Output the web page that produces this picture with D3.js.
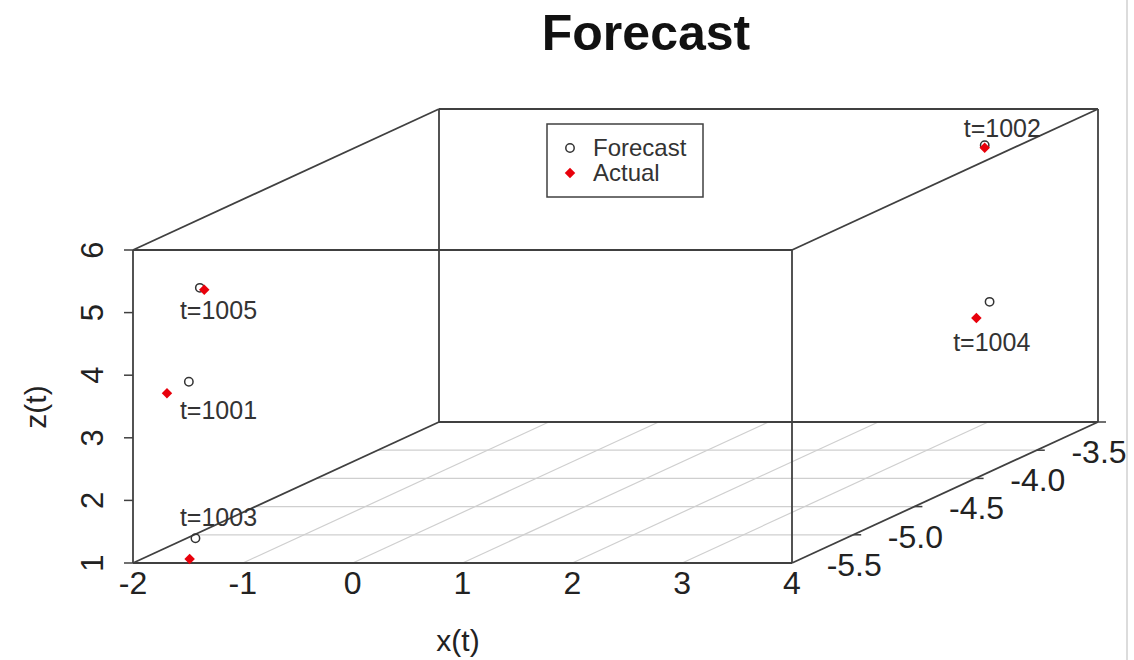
<!DOCTYPE html>
<html>
<head>
<meta charset="utf-8">
<script src="https://cdn.jsdelivr.net/npm/d3@7"></script>
<style>
  body { margin: 0; background: #fff; }
  svg { display: block; font-family: "Liberation Sans", Arial, sans-serif; }
</style>
</head>
<body>
<svg id="chart" width="1134" height="660"></svg>
<script>
// Time stamps of the five forecast / actual pairs.
const times = [1001, 1002, 1003, 1004, 1005];
// Forecast coordinates.
const forecastX = [-1.77, 3.08, -1.71, 3.57, -1.67];
const forecastY = [-5.75, -3.6, -5.75, -4.0, -5.75];
const forecastZ = [3.67, 5.51, 1.17, 3.37, 5.17];
// Actual coordinates.
const actualX = [-1.83, 3.08, -1.54, 3.45, -1.63];
const actualY = [-5.875, -3.6, -5.95, -4.0, -5.75];
const actualZ = [3.60, 5.47, 1.02, 3.11, 5.14];
// Where the "t=..." labels sit, in data space.
const labelX = [-1.50, 3.24, -1.50, 3.59, -1.50];
const labelY = [-5.75, -3.6, -5.75, -4.0, -5.75];
const labelZ = [3.22, 5.79, 1.51, 2.73, 4.82];
// Axis ticks.
const xTicks = [-2, -1, 0, 1, 2, 3, 4];
const yTicks = [-6, -5.5, -5, -4.5, -4, -3.5];
const zTicks = [1, 2, 3, 4, 5, 6];

const svg = d3.select("#chart");
const boxColor = "#404040";
const gridColor = "#cfcfcf";

// Front face scales, plus the oblique shift for the depth (y) axis.
const x = d3.scaleLinear().domain([-2, 4]).range([133, 792]);
const z = d3.scaleLinear().domain([1, 6]).range([563, 250]);
const depth = d3.scaleLinear().domain([-6, -3.5]).range([0, 1]);
const shiftX = 306, shiftY = -141;

function proj(px, py, pz) {
  const f = depth(py);
  return [x(px) + f * shiftX, z(pz) + f * shiftY];
}

function seg(g, a, b, color, width) {
  g.append("line")
    .attr("x1", a[0]).attr("y1", a[1])
    .attr("x2", b[0]).attr("y2", b[1])
    .attr("stroke", color)
    .attr("stroke-width", width);
}

const [xmin, xmax] = x.domain();
const [ymin, ymax] = depth.domain();
const [zmin, zmax] = z.domain();

// Floor grid.
const grid = svg.append("g");
yTicks.slice(1, -1).forEach(v => seg(grid, proj(xmin, v, zmin), proj(xmax, v, zmin), gridColor, 1.2));
xTicks.slice(1, -1).forEach(v => seg(grid, proj(v, ymin, zmin), proj(v, ymax, zmin), gridColor, 1.2));

// Box edges.
const box = svg.append("g");
const edges = [
  [[xmin, ymin, zmin], [xmax, ymin, zmin]],
  [[xmin, ymin, zmax], [xmax, ymin, zmax]],
  [[xmin, ymin, zmin], [xmin, ymin, zmax]],
  [[xmax, ymin, zmin], [xmax, ymin, zmax]],
  [[xmin, ymax, zmin], [xmax, ymax, zmin]],
  [[xmin, ymax, zmax], [xmax, ymax, zmax]],
  [[xmin, ymax, zmin], [xmin, ymax, zmax]],
  [[xmax, ymax, zmin], [xmax, ymax, zmax]],
  [[xmin, ymin, zmin], [xmin, ymax, zmin]],
  [[xmax, ymin, zmin], [xmax, ymax, zmin]],
  [[xmin, ymin, zmax], [xmin, ymax, zmax]],
  [[xmax, ymin, zmax], [xmax, ymax, zmax]]
];
edges.forEach(e => seg(box, proj(...e[0]), proj(...e[1]), boxColor, 1.8));

// z axis ticks and labels (rotated, like R).
zTicks.forEach(v => {
  const p = proj(xmin, ymin, v);
  seg(box, [p[0] - 9, p[1]], p, boxColor, 1.5);
  svg.append("text")
    .attr("transform", `translate(${p[0] - 30},${p[1]}) rotate(-90)`)
    .attr("text-anchor", "middle")
    .attr("font-size", 31)
    .attr("fill", "#222")
    .text(v);
});

// x axis labels.
xTicks.forEach(v => {
  const p = proj(v, ymin, zmin);
  svg.append("text")
    .attr("x", p[0]).attr("y", p[1] + 31)
    .attr("text-anchor", "middle")
    .attr("font-size", 32)
    .attr("fill", "#222")
    .text(v);
});

// y axis ticks and labels along the oblique edge.
yTicks.slice(1).forEach(v => {
  const p = proj(xmax, v, zmin);
  seg(box, p, [p[0] + 8, p[1]], boxColor, 1.5);
  svg.append("text")
    .attr("x", p[0] + 1).attr("y", p[1] + 41)
    .attr("text-anchor", "middle")
    .attr("font-size", 32)
    .attr("fill", "#222")
    .text(v.toFixed(1));
});

// Axis titles.
svg.append("text")
  .attr("x", 458).attr("y", 651)
  .attr("text-anchor", "middle")
  .attr("font-size", 30)
  .attr("fill", "#222")
  .text("x(t)");
svg.append("text")
  .attr("transform", "translate(46,407) rotate(-90)")
  .attr("text-anchor", "middle")
  .attr("font-size", 30)
  .attr("fill", "#222")
  .text("z(t)");

// Title.
svg.append("text")
  .attr("x", 646).attr("y", 50)
  .attr("text-anchor", "middle")
  .attr("font-size", 50)
  .attr("font-weight", "bold")
  .attr("fill", "#111")
  .text("Forecast");

// Points.
const diamond = d3.symbol().type(d3.symbolDiamond2).size(70);
const pts = svg.append("g");
times.forEach((t, i) => {
  const f = proj(forecastX[i], forecastY[i], forecastZ[i]);
  const a = proj(actualX[i], actualY[i], actualZ[i]);
  pts.append("circle")
    .attr("cx", f[0]).attr("cy", f[1]).attr("r", 4.2)
    .attr("fill", "none")
    .attr("stroke", "#333")
    .attr("stroke-width", 1.5);
  pts.append("path")
    .attr("d", diamond)
    .attr("transform", `translate(${a[0]},${a[1]})`)
    .attr("fill", "#e8000b");
  const l = proj(labelX[i], labelY[i], labelZ[i]);
  pts.append("text")
    .attr("x", l[0]).attr("y", l[1])
    .attr("dy", "0.35em")
    .attr("text-anchor", "middle")
    .attr("font-size", 25)
    .attr("fill", "#333")
    .text(`t=${t}`);
});

// Legend.
const legend = svg.append("g").attr("transform", "translate(547,124)");
legend.append("rect")
  .attr("width", 156).attr("height", 73)
  .attr("fill", "#fff")
  .attr("stroke", boxColor)
  .attr("stroke-width", 1.5);
legend.append("circle")
  .attr("cx", 23).attr("cy", 24).attr("r", 4.2)
  .attr("fill", "none").attr("stroke", "#333").attr("stroke-width", 1.5);
legend.append("path")
  .attr("d", diamond)
  .attr("transform", "translate(23,49)")
  .attr("fill", "#e8000b");
legend.selectAll("text.leg")
  .data(["Forecast", "Actual"])
  .enter().append("text")
  .attr("class", "leg")
  .attr("x", 46)
  .attr("y", (d, i) => 24 + i * 25)
  .attr("dy", "0.35em")
  .attr("font-size", 24)
  .attr("fill", "#333")
  .text(d => d);

// Faint frame edge on the right.
svg.append("line")
  .attr("x1", 1127).attr("x2", 1127)
  .attr("y1", 0).attr("y2", 660)
  .attr("stroke", "#dcdcdc")
  .attr("stroke-width", 2);
</script>
</body>
</html>
